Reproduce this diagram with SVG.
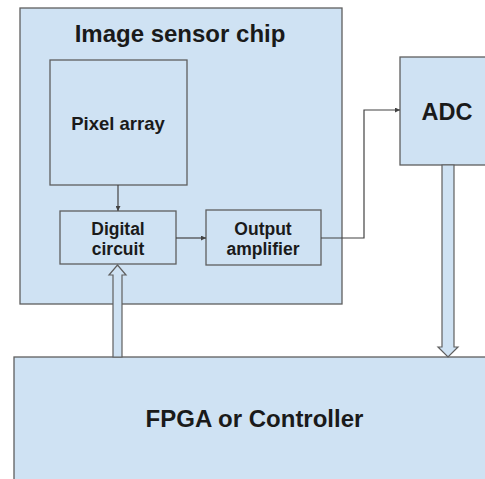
<svg xmlns="http://www.w3.org/2000/svg" width="485" height="479" viewBox="0 0 485 479">
<style>
.box{fill:#cfe2f3;stroke:#5f5f5f;stroke-width:1.3}
.inner{fill:none;stroke:#5f5f5f;stroke-width:1.3}
.t{font-family:"Liberation Sans",Arial,sans-serif;font-weight:bold;fill:#1a1a1a;text-anchor:middle}
.wire{fill:none;stroke:#434343;stroke-width:1.2}
.fat{fill:#cfe2f3;stroke:#5f5f5f;stroke-width:1.2}
</style>
<defs>
<marker id="ah" viewBox="0 0 6 6" refX="6" refY="3" markerWidth="5" markerHeight="5" markerUnits="userSpaceOnUse" orient="auto">
<path d="M0,0 L6,3 L0,6 Z" fill="#434343"/>
</marker>
</defs>
<rect width="485" height="479" fill="#ffffff"/>
<g id="chip">
<rect class="box" x="20" y="8" width="322" height="296"/>
<text class="t" x="180" y="41.5" font-size="24">Image sensor chip</text>
</g>
<g id="fpga">
<rect class="box" x="14" y="357" width="480" height="130"/>
<text class="t" x="254.5" y="427" font-size="24">FPGA or Controller</text>
</g>
<g id="adc">
<rect class="box" x="400" y="57" width="94" height="108"/>
<text class="t" x="447" y="120" font-size="23.5">ADC</text>
</g>
<g id="pixel">
<rect class="inner" x="50" y="60" width="137" height="125"/>
<text class="t" x="118" y="130" font-size="18.5">Pixel array</text>
</g>
<g id="digital">
<rect class="inner" x="60" y="211" width="116" height="53"/>
<text class="t" x="118" y="235" font-size="17.5">Digital</text>
<text class="t" x="118" y="255" font-size="17.5">circuit</text>
</g>
<g id="amp">
<rect class="inner" x="206" y="210" width="115" height="55"/>
<text class="t" x="263" y="234.5" font-size="17.5">Output</text>
<text class="t" x="263" y="254.5" font-size="17.5">amplifier</text>
</g>
<g id="connectors">
<path class="wire" d="M118,185 V211" marker-end="url(#ah)"/>
<path class="wire" d="M176,238 H206" marker-end="url(#ah)"/>
<path class="wire" d="M321,238 H364 V110 H400" marker-end="url(#ah)"/>
<path class="fat" d="M113,357 V275 H109 L117.5,265 L126,275 H122 V357 Z"/>
<path class="fat" d="M442,165 V347 H438 L448,357 L458,347 H454 V165 Z"/>
</g>
</svg>
